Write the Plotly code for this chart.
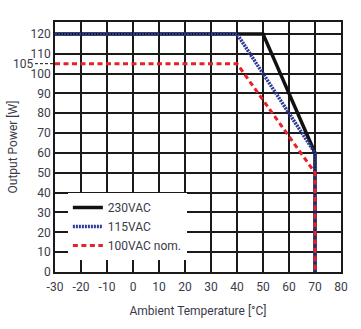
import plotly.graph_objects as go

# Data
x_230 = [-30, 50, 70, 70]
y_230 = [120, 120, 60, 0]
x_115 = [-30, 40, 70, 70]
y_115 = [120, 120, 60, 0]
x_100 = [-30, 40, 70, 70]
y_100 = [105, 105, 50, 0]
names = ["230VAC", "115VAC", "100VAC nom."]
x_ticks = list(range(-30, 81, 10))
y_ticks = list(range(0, 121, 10))
mark_105 = 105

FONT = "Roboto, sans-serif"
TXT = "#3a3a4a"

fig = go.Figure()
fig.add_trace(go.Scatter(x=x_230, y=y_230, mode="lines", name=names[0],
                         line=dict(color="#111111", width=3.5)))
fig.add_trace(go.Scatter(x=x_115, y=y_115, mode="lines", name=names[1],
                         line=dict(color="#2b3a94", width=3.5, dash="2px,1px")))
fig.add_trace(go.Scatter(x=x_100, y=y_100, mode="lines", name=names[2],
                         line=dict(color="#e8202a", width=3, dash="5px,3.5px")))

fig.update_layout(
    width=361, height=329,
    margin=dict(l=50, r=20, t=22, b=57),
    paper_bgcolor="white", plot_bgcolor="white",
    font=dict(family=FONT, size=12, color=TXT),
    showlegend=True,
    legend=dict(x=0.045, y=0.316, xanchor="left", yanchor="top",
                bgcolor="white", borderwidth=0,
                font=dict(family=FONT, size=12, color=TXT),
                tracegroupgap=0, itemwidth=30),
    xaxis=dict(range=[-30, 80], tickvals=x_ticks, ticktext=[str(v) for v in x_ticks],
               showgrid=True, gridcolor="#1a1a1a", gridwidth=1.5,
               showline=True, linecolor="#1a1a1a", linewidth=1.5, mirror=True,
               zeroline=False, ticks="", ticklen=0, ticklabelstandoff=3,
               title=dict(text="Ambient Temperature [°C]", standoff=13,
                          font=dict(family=FONT, size=12, color=TXT))),
    yaxis=dict(range=[0, 126], tickvals=y_ticks, ticktext=[str(v) for v in y_ticks],
               showgrid=True, gridcolor="#1a1a1a", gridwidth=1.5,
               showline=True, linecolor="#1a1a1a", linewidth=1.5, mirror=True,
               zeroline=False, ticks="", ticklen=0,
               title=dict(text="Output Power [W]", standoff=10,
                          font=dict(family=FONT, size=12, color=TXT))),
)

fig.add_shape(type="line", xref="paper", yref="y", x0=-0.07, x1=0, y0=mark_105, y1=mark_105,
              line=dict(color="#111111", width=1, dash="3px,2px"))
fig.add_annotation(xref="paper", yref="y", x=-0.07, y=mark_105, text=str(mark_105),
                   showarrow=False, xanchor="right", yanchor="middle",
                   font=dict(family=FONT, size=12, color=TXT))

fig.write_html("out.html")
